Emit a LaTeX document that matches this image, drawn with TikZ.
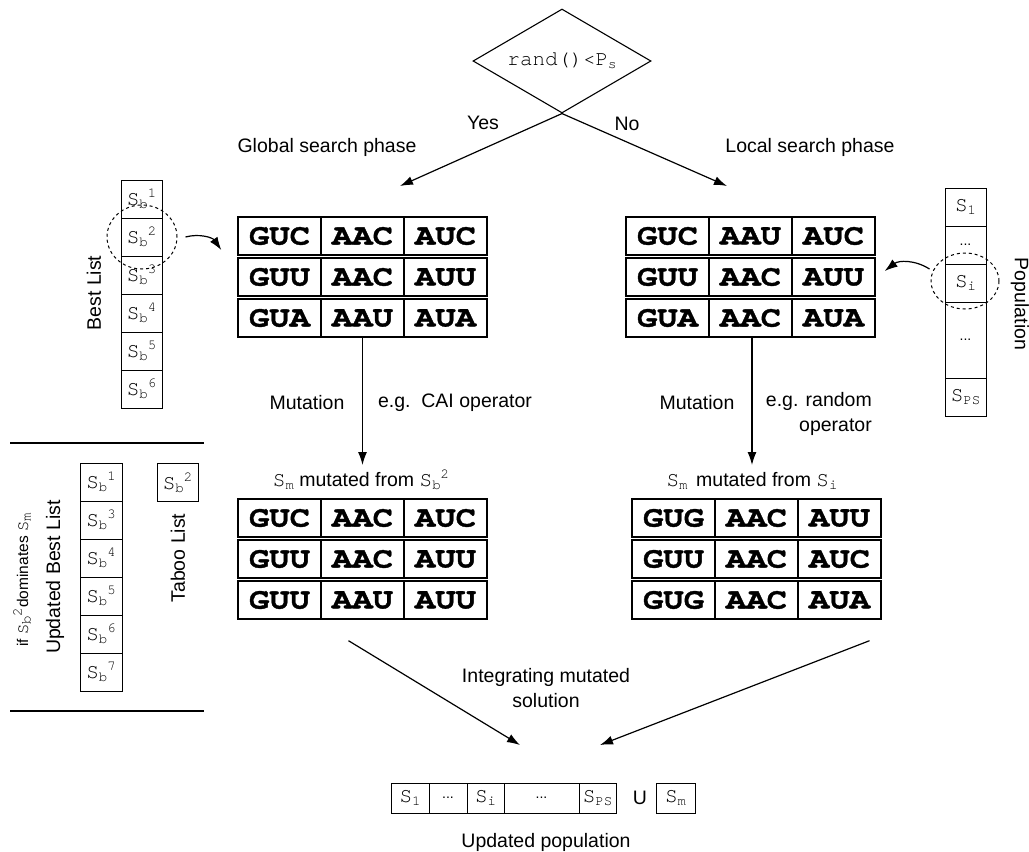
\documentclass[tikz,border=0pt]{standalone}
\usepackage{fontspec}
\setmainfont{Liberation Sans}
\newfontfamily\cour{texgyrecursor}[Extension=.otf, UprightFont=*-regular, BoldFont=*-bold]
\newfontfamily\codonfont{texgyrecursor}[Extension=.otf, UprightFont=*-bold, FakeStretch=1.15, FakeBold=1.2]
\usetikzlibrary{arrows.meta,shapes.geometric}
\newcommand\subfont{\fontsize{14}{14}\selectfont}
\newcommand\sbk[1]{S\raisebox{-0.35ex}{\subfont b}\raisebox{0.9ex}{\subfont #1}}
\newcommand\ssub[1]{S\raisebox{-0.35ex}{\subfont #1}}
\newcommand\dotsfont{\fontsize{14}{14}\selectfont\rmfamily}
\begin{document}
\begin{tikzpicture}[x=1pt,y=-1pt,
  lbl/.style={font=\fontsize{19.5}{25}\selectfont, inner sep=0},
  smalllbl/.style={font=\fontsize{15.5}{19}\selectfont, inner sep=0},
  cell/.style={draw, line width=1.4pt, minimum width=83pt, minimum height=38pt, inner sep=0,
    font=\codonfont\fontsize{29.5}{29.5}\selectfont},
  scell/.style={draw, line width=1pt, minimum width=41pt, minimum height=38pt, inner sep=0,
    font=\cour\fontsize{21}{21}\selectfont},
  pcell/.style={draw, line width=1pt, minimum height=30pt, inner sep=0,
    font=\cour\fontsize{21}{21}\selectfont},
  arr/.style={line width=1.2pt, -{Latex[length=13pt,width=9pt]}},
  dashell/.style={draw, dashed, line width=1pt, ellipse, inner sep=0},
]
\useasboundingbox (0,0) rectangle (1029,852);

% decision diamond
\node[diamond, aspect=1.71, draw, line width=1.1pt, minimum width=178pt, minimum height=104pt, inner sep=0,
  font=\cour\fontsize{21}{21}\selectfont] (dia) at (562,61) {rand()<P\raisebox{-0.35ex}{\subfont s}};
\coordinate (yesEnd) at (400,186);
\coordinate (noEnd) at (727,186);
\draw[arr] (dia.south) -- (yesEnd);
\draw[arr] (dia.south) -- (noEnd);
\node[lbl] (yes) at (483,123) {Yes};
\node[lbl] (no) at (627,124) {No};
\node[lbl] (gsp) at (327,147) {Global search phase};
\node[lbl] (lsp) at (810,147) {Local search phase};

% codon tables
\foreach \r/\y/\a/\b/\c in {1/236/GUC/AAC/AUC, 2/277/GUU/AAC/AUU, 3/318/GUA/AAU/AUA}{
  \node[cell] (A\r1) at (279.5,\y) {\a};
  \node[cell] (A\r2) at (362.5,\y) {\b};
  \node[cell] (A\r3) at (445.5,\y) {\c};
}
\foreach \r/\y/\a/\b/\c in {1/236/GUC/AAU/AUC, 2/277/GUU/AAC/AUU, 3/318/GUA/AAC/AUA}{
  \node[cell] (B\r1) at (667.5,\y) {\a};
  \node[cell] (B\r2) at (750.5,\y) {\b};
  \node[cell] (B\r3) at (833.5,\y) {\c};
}
\foreach \r/\y/\a/\b/\c in {1/518/GUC/AAC/AUC, 2/559/GUU/AAC/AUU, 3/600/GUU/AAU/AUU}{
  \node[cell] (C\r1) at (279.5,\y) {\a};
  \node[cell] (C\r2) at (362.5,\y) {\b};
  \node[cell] (C\r3) at (445.5,\y) {\c};
}
\foreach \r/\y/\a/\b/\c in {1/518/GUG/AAC/AUU, 2/559/GUU/AAC/AUC, 3/600/GUG/AAC/AUA}{
  \node[cell] (D\r1) at (673.5,\y) {\a};
  \node[cell] (D\r2) at (756.5,\y) {\b};
  \node[cell] (D\r3) at (839.5,\y) {\c};
}

% best list
\foreach \k/\y in {1/199,2/237,3/275,4/313,5/351,6/389}{
  \node[scell] (bl\k) at (141.5,\y) {\sbk{\k}};
}
\node[lbl, rotate=90] (bestlbl) at (94,293) {Best List};
\node[dashell, minimum width=70pt, minimum height=64pt] (eb) at (142,237) {};
\draw[arr] ([xshift=8pt]eb.east) to[bend left=35] ([shift={(-16,14)}]A11.west);

% population
\node[scell] (p1) at (965.5,207) {\ssub{1}};
\node[scell] (p2) at (965.5,245) {\dotsfont ...};
\node[scell] (p3) at (965.5,283) {\ssub{i}};
\node[scell, minimum height=76pt] (p4) at (965.5,340) {\dotsfont ...};
\node[scell] (p5) at (965.5,397) {\ssub{PS}};
\node[lbl, rotate=-90] (poplbl) at (1020,304) {Population};
\node[dashell, minimum width=68pt, minimum height=56pt] (ep) at (965,281) {};
\draw[arr] ([shift={(-1,-12)}]ep.west) to[bend right=35] ([shift={(9,-6)}]B23.east);

% mutation
\coordinate (mutL) at (362.5,465);
\coordinate (mutR) at (752,465);
\draw[arr] (A32.south) -- (mutL);
\draw[arr] ([xshift=1.5pt]B32.south) -- (mutR);
\node[lbl] (m1) at (307,403) {Mutation};
\node[lbl] (op1) at (455,403) {e.g.\ \ CAI operator};
\node[lbl] (m2) at (697,403) {Mutation};
\node[lbl, align=right, anchor=east] (op2) at (872,414) {e.g. random\\operator};
\node[lbl] (sm1) at (361,480) {{\cour\fontsize{21}{21}\selectfont\ssub{m}} mutated from {\cour\fontsize{21}{21}\selectfont\sbk{2}}};
\node[lbl] (sm2) at (752,481) {{\cour\fontsize{21}{21}\selectfont\ssub{m}}\, mutated from {\cour\fontsize{21}{21}\selectfont\ssub{i}}};

% integration
\coordinate (intL) at (520,745);
\coordinate (intR) at (600,745);
\draw[arr] ([shift={(-14,21)}]C32.south) -- (intL);
\draw[arr] ([shift={(30,21)}]D33.south) -- (intR);
\node[lbl, align=center] (integ) at (546,688) {Integrating mutated\\solution};

% updated population
\node[pcell, minimum width=38pt] (u1) at (410,798) {\ssub{1}};
\node[pcell, minimum width=38pt] (u2) at (448,798) {\dotsfont ...};
\node[pcell, minimum width=37pt] (u3) at (485.5,798) {\ssub{i}};
\node[pcell, minimum width=75pt] (u4) at (541.5,798) {\dotsfont ...};
\node[pcell, minimum width=37pt] (u5) at (597.5,798) {\ssub{PS}};
\node[lbl] (union) at (640,798) {U};
\node[pcell, minimum width=39pt] (um) at (675.5,798) {\ssub{m}};
\node[lbl] (uplbl) at (546,842) {Updated population};

% updated best list / taboo
\coordinate (ln1a) at (10,443);
\coordinate (ln1b) at (204,443);
\coordinate (ln2a) at (10,711);
\coordinate (ln2b) at (204,711);
\draw[line width=1.3pt] (ln1a) -- (ln1b);
\draw[line width=1.3pt] (ln2a) -- (ln2b);
\foreach \k/\y in {1/482,3/520,4/558,5/596,6/634,7/672}{
  \node[scell, minimum width=42pt] (ub\k) at (101,\y) {\sbk{\k}};
}
\node[scell] (tb) at (177.5,482.5) {\sbk{2}};
\node[lbl, rotate=90] (tblbl) at (178,558) {Taboo List};
\node[lbl, rotate=90] (ublbl) at (55,577) {Updated Best List};
\node[smalllbl, rotate=90] (iflbl) at (22,580) {if {\cour\fontsize{17}{17}\selectfont\sbk{2}}dominates {\cour\fontsize{17}{17}\selectfont\ssub{m}}};
\end{tikzpicture}
\end{document}
